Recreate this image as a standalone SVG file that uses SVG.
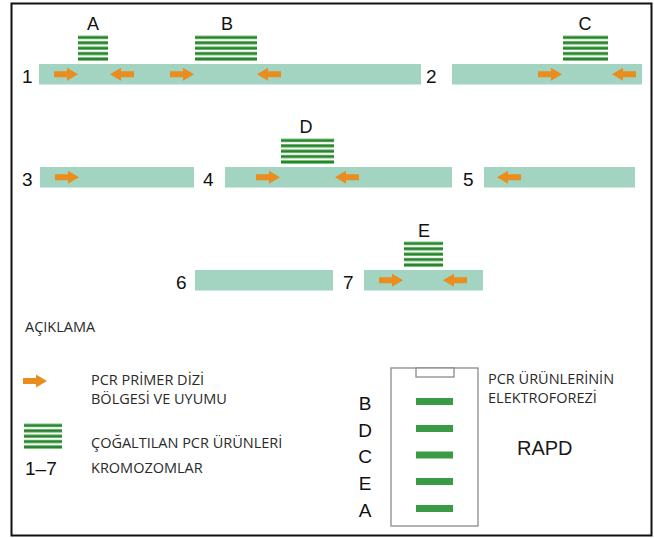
<svg xmlns="http://www.w3.org/2000/svg" xmlns:xlink="http://www.w3.org/1999/xlink" width="654" height="538" viewBox="0 0 654 538">
  <style>
    .frame { fill: #ffffff; stroke: #111111; stroke-width: 2; }
    .chrom { fill: #a2d4c1; }
    .arrow { fill: #e98d1f; }
    .halo { stroke: #74c774; stroke-width: 3.8; }
    .core { stroke: #2f7f37; stroke-width: 2; }
    .num { font-family: "Liberation Sans", Arial, sans-serif; font-size: 19px; fill: #111111; }
    .tag { font-family: "Liberation Sans", Arial, sans-serif; font-size: 18px; fill: #111111; text-anchor: middle; }
    .leg { font-family: "Open Sans", "Noto Sans", sans-serif; font-size: 14.5px; fill: #2a2a2a; }
    .gel { fill: #ffffff; stroke: #8a8a8a; stroke-width: 1.3; }
    .band { fill: #3a9b45; }
    .big { font-family: "Liberation Sans", Arial, sans-serif; font-size: 20px; fill: #1a1a1a; }
  </style>
  <defs>
    <!-- primer arrows, 24px long, centred on y=0 -->
    <path id="arR" class="arrow" d="M0,-3 H13 V-6.5 L24,0 L13,6.5 V3 H0 Z"/>
    <path id="arL" class="arrow" d="M24,-3 H11 V-6.5 L0,0 L11,6.5 V3 H24 Z"/>
    <!-- five stacked amplicon strands, unit width, bottom line at y=0 -->
    <g id="strands">
      <path class="halo" d="M0,-21.6 H1 M0,-16.2 H1 M0,-10.8 H1 M0,-5.4 H1 M0,0 H1" vector-effect="non-scaling-stroke"/>
      <path class="core" d="M0,-21.6 H1 M0,-16.2 H1 M0,-10.8 H1 M0,-5.4 H1 M0,0 H1" vector-effect="non-scaling-stroke"/>
    </g>
  </defs>

  <rect class="frame" x="11.5" y="3.5" width="640" height="532"/>

  <!-- row 1: chromosomes 1 and 2 -->
  <g id="chrom1">
    <text class="num" x="22" y="83">1</text>
    <rect class="chrom" x="39" y="64" width="382" height="20.5"/>
    <use href="#arR" x="54" y="74.2"/>
    <use href="#arL" x="110" y="74.2"/>
    <use href="#arR" x="170" y="74.2"/>
    <use href="#arL" x="257" y="74.2"/>
  </g>
  <g id="chrom2">
    <text class="num" x="426" y="83">2</text>
    <rect class="chrom" x="452" y="64" width="190" height="20.5"/>
    <use href="#arR" x="538" y="74.2"/>
    <use href="#arL" x="612" y="74.2"/>
  </g>
  <g id="productA">
    <text class="tag" x="93" y="30">A</text>
    <use href="#strands" transform="translate(78,59) scale(30,1)"/>
  </g>
  <g id="productB">
    <text class="tag" x="227" y="30">B</text>
    <use href="#strands" transform="translate(195,59) scale(62,1)"/>
  </g>
  <g id="productC">
    <text class="tag" x="585" y="30">C</text>
    <use href="#strands" transform="translate(563,59) scale(45,1)"/>
  </g>

  <!-- row 2: chromosomes 3, 4 and 5 -->
  <g id="chrom3">
    <text class="num" x="22" y="186">3</text>
    <rect class="chrom" x="40" y="167" width="154" height="20.5"/>
    <use href="#arR" x="55" y="177.3"/>
  </g>
  <g id="chrom4">
    <text class="num" x="203" y="186">4</text>
    <rect class="chrom" x="225" y="167" width="227" height="20.5"/>
    <use href="#arR" x="256" y="177.3"/>
    <use href="#arL" x="335" y="177.3"/>
  </g>
  <g id="chrom5">
    <text class="num" x="463" y="186">5</text>
    <rect class="chrom" x="484" y="167" width="151" height="20.5"/>
    <use href="#arL" x="497" y="177.3"/>
  </g>
  <g id="productD">
    <text class="tag" x="306" y="133">D</text>
    <use href="#strands" transform="translate(281,162) scale(53,1)"/>
  </g>

  <!-- row 3: chromosomes 6 and 7 -->
  <g id="chrom6">
    <text class="num" x="176" y="289">6</text>
    <rect class="chrom" x="195" y="270" width="138" height="20.5"/>
  </g>
  <g id="chrom7">
    <text class="num" x="343" y="289">7</text>
    <rect class="chrom" x="364" y="270" width="119" height="20.5"/>
    <use href="#arR" x="379" y="280.3"/>
    <use href="#arL" x="443" y="280.3"/>
  </g>
  <g id="productE">
    <text class="tag" x="424" y="237">E</text>
    <use href="#strands" transform="translate(404,265) scale(39,1)"/>
  </g>

  <!-- key -->
  <g id="legend">
    <text class="leg" x="25" y="332">AÇIKLAMA</text>
    <use href="#arR" x="23" y="381"/>
    <text class="leg" x="91" y="385">PCR PRİMER DİZİ</text>
    <text class="leg" x="91" y="404">BÖLGESİ VE UYUMU</text>
    <use href="#strands" transform="translate(24,447) scale(38,1)"/>
    <text class="leg" x="91" y="448">ÇOĞALTILAN PCR ÜRÜNLERİ</text>
    <text class="num" x="25" y="475">1–7</text>
    <text class="leg" x="91" y="473">KROMOZOMLAR</text>
  </g>

  <!-- electrophoresis gel -->
  <g id="gel">
    <rect class="gel" x="391" y="368" width="87" height="158"/>
    <rect class="gel" x="416" y="368" width="38" height="9"/>
    <rect class="band" x="416" y="398" width="37" height="7"/>
    <rect class="band" x="416" y="425" width="37" height="7"/>
    <rect class="band" x="416" y="451.5" width="37" height="7"/>
    <rect class="band" x="416" y="478" width="37" height="7"/>
    <rect class="band" x="416" y="505" width="37" height="7"/>
    <text class="num" x="365" y="409.5" text-anchor="middle">B</text>
    <text class="num" x="365" y="436.5" text-anchor="middle">D</text>
    <text class="num" x="365" y="463" text-anchor="middle">C</text>
    <text class="num" x="365" y="489.5" text-anchor="middle">E</text>
    <text class="num" x="365" y="516.5" text-anchor="middle">A</text>
    <text class="leg" x="488" y="384">PCR ÜRÜNLERİNİN</text>
    <text class="leg" x="488" y="403">ELEKTROFOREZİ</text>
    <text class="big" x="517" y="455">RAPD</text>
  </g>
</svg>
